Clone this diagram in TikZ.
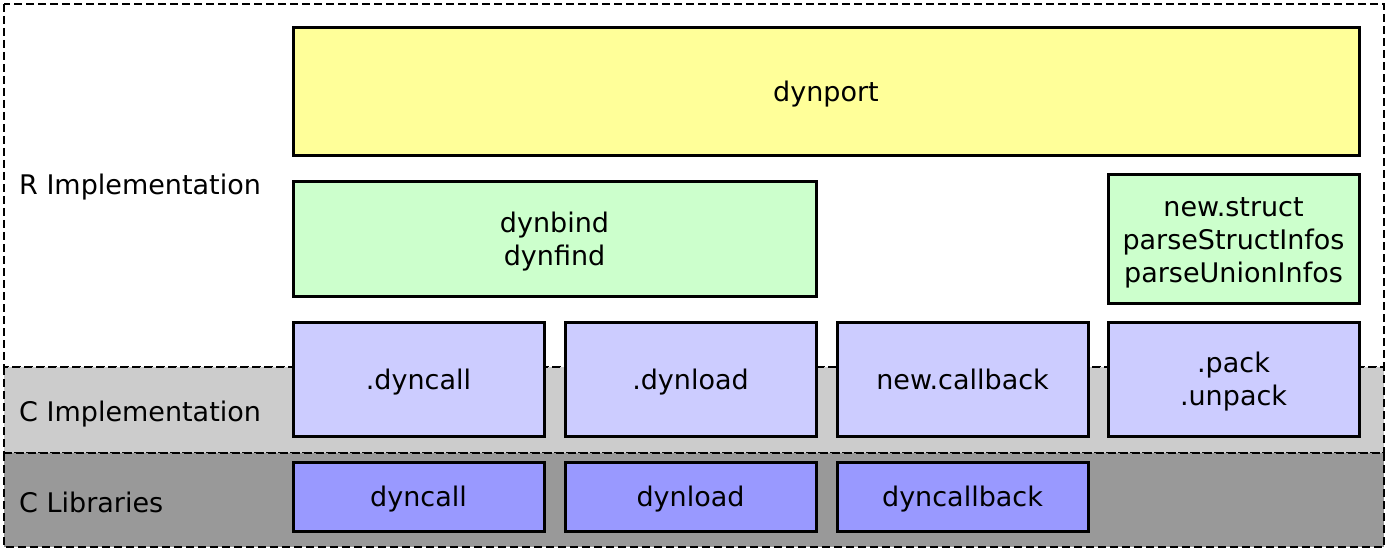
\documentclass[tikz,border=0pt]{standalone}
\usepackage{fontspec}
\setmainfont{DejaVu Sans}
\definecolor{yel}{HTML}{FFFF99}
\definecolor{grn}{HTML}{CCFFCC}
\definecolor{lblue}{HTML}{CCCCFF}
\definecolor{dblue}{HTML}{9999FF}
\definecolor{lgray}{HTML}{CCCCCC}
\definecolor{dgray}{HTML}{999999}
\newcommand{\mystrut}{\rule[-6.5pt]{0pt}{33pt}}
\begin{document}
\begin{tikzpicture}[x=1pt,y=-1pt,
  layer/.style={draw=black,line width=2.4pt,dash pattern=on 8pt off 4pt},
  box/.style={draw=black,line width=3pt,inner sep=0pt,align=center,font=\fontsize{27}{33}\selectfont},
  lbl/.style={anchor=west,inner sep=0pt,font=\fontsize{27}{33}\selectfont}]
\useasboundingbox (0,0) rectangle (1388,553);
\fill[white] (0,0) rectangle (1388,553);
% layers
\draw[layer] (4,4) rectangle (1384,367);
\draw[layer,fill=lgray] (4,367) rectangle (1384,453);
\draw[layer,fill=dgray] (4,453) rectangle (1384,547);
% labels
\node[lbl] (rimpl) at (19,185) {\mystrut R Implementation};
\node[lbl] (cimpl) at (19,411) {\mystrut C Implementation};
\node[lbl] (clib) at (19,502) {\mystrut C Libraries};
% R boxes
\node[box,fill=yel,minimum width=1066pt,minimum height=128pt] (dynport) at (826,92) {\mystrut dynport};
\node[box,fill=grn,minimum width=523pt,minimum height=114pt] (dynbind) at (554.5,239) {\mystrut dynbind\\\mystrut dynfind};
\node[box,fill=grn,minimum width=251pt,minimum height=128pt] (struct) at (1233.5,239) {\mystrut new.struct\\\mystrut parseStructInfos\\\mystrut parseUnionInfos};
% C impl boxes
\node[box,fill=lblue,minimum width=251pt,minimum height=114pt] (dotdyncall) at (418.5,379) {\mystrut .dyncall};
\node[box,fill=lblue,minimum width=251pt,minimum height=114pt] (dotdynload) at (690.5,379) {\mystrut .dynload};
\node[box,fill=lblue,minimum width=251pt,minimum height=114pt] (newcb) at (962.5,379) {\mystrut new.callback};
\node[box,fill=lblue,minimum width=251pt,minimum height=114pt] (pack) at (1233.5,379) {\mystrut .pack\\\mystrut .unpack};
% C libs
\node[box,fill=dblue,minimum width=251pt,minimum height=69pt] (dyncall) at (418.5,496.5) {\mystrut dyncall};
\node[box,fill=dblue,minimum width=251pt,minimum height=69pt] (dynload) at (690.5,496.5) {\mystrut dynload};
\node[box,fill=dblue,minimum width=251pt,minimum height=69pt] (dyncallback) at (962.5,496.5) {\mystrut dyncallback};
\end{tikzpicture}
\end{document}
